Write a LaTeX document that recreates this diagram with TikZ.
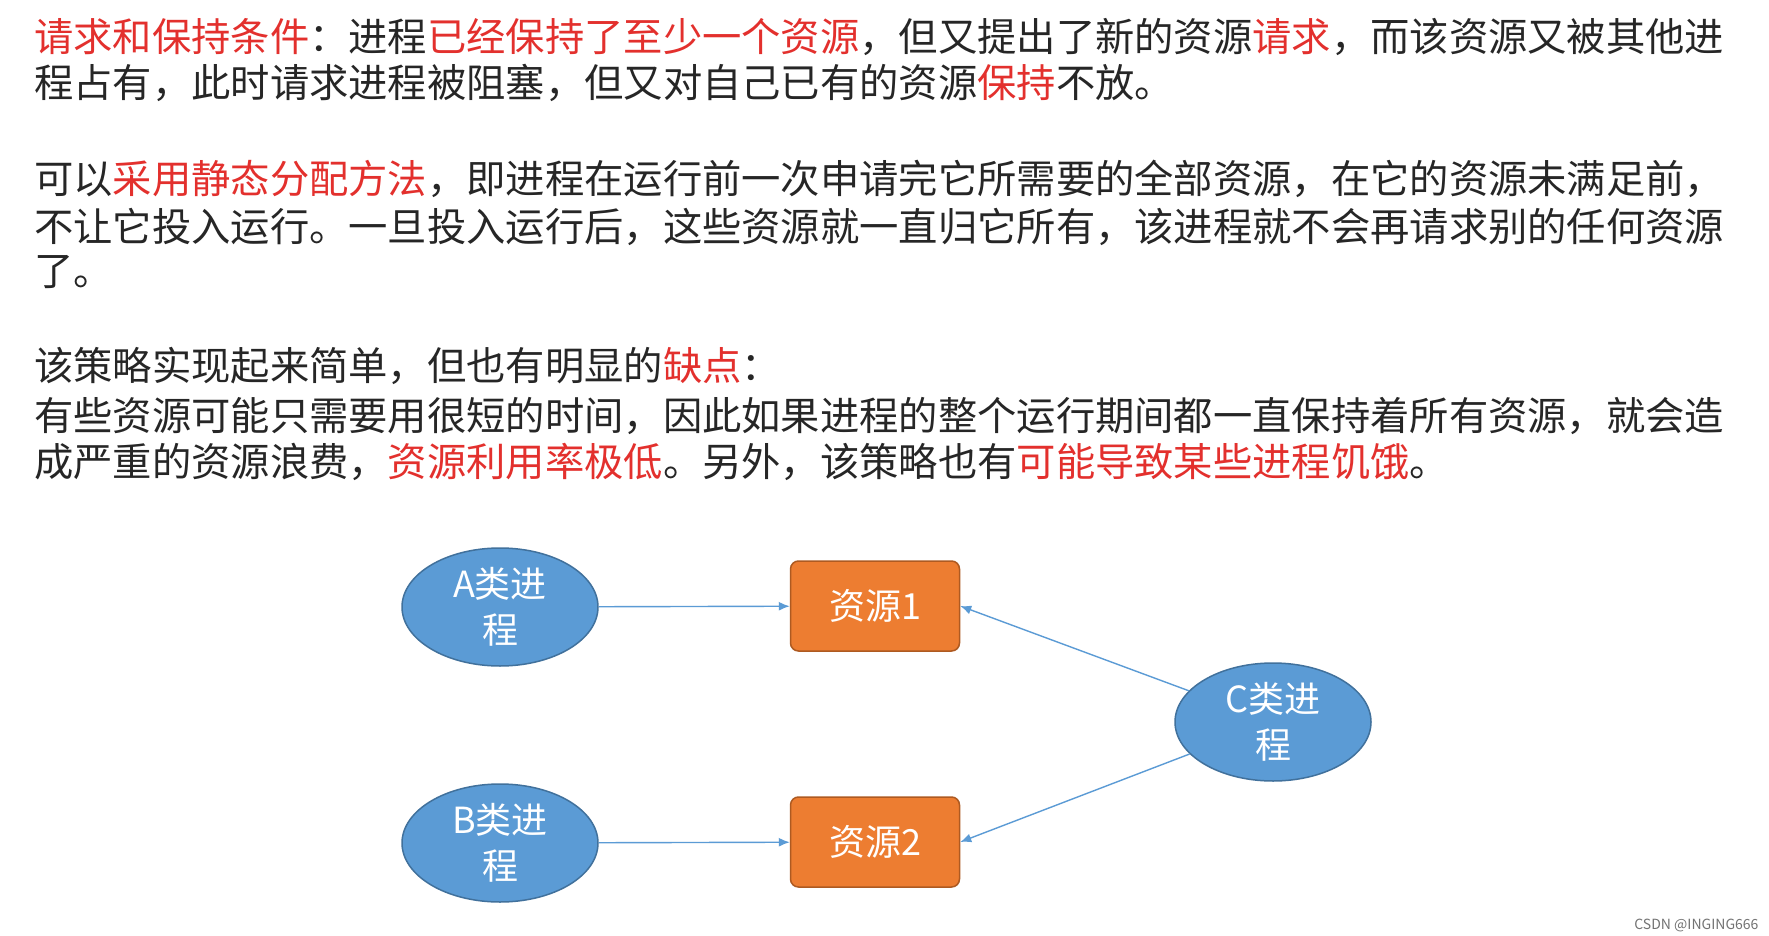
\documentclass[tikz,border=0pt]{standalone}
\usepackage{fontspec}
\setmainfont{Noto Sans CJK SC}
\setsansfont{Noto Sans CJK SC}
\usepackage{xcolor}
\usetikzlibrary{shapes.geometric,arrows.meta}
\definecolor{hred}{HTML}{E3302D}
\definecolor{pblue}{HTML}{5B9BD5}
\definecolor{pedge}{HTML}{41719C}
\definecolor{rorange}{HTML}{ED7D31}
\definecolor{redge}{HTML}{AE5A21}
\newcommand{\hl}[1]{\textcolor{hred}{#1}}
\begin{document}
\begin{tikzpicture}[x=1pt,y=-1pt,
    para/.style={anchor=west,inner sep=0pt,font=\fontsize{39.3}{45}\selectfont,text=black!85},
    proc/.style={ellipse,fill=pblue,draw=pedge,line width=1.5pt,minimum width=196pt,minimum height=118pt,inner sep=0pt,align=center,text=white,font=\fontsize{36}{46}\selectfont},
    res/.style={rectangle,rounded corners=8pt,fill=rorange,draw=redge,line width=1.5pt,minimum width=169pt,minimum height=90pt,text=white,font=\fontsize{36}{40}\selectfont},
    link/.style={draw=pblue,line width=1.4pt,-{Latex[length=11pt,width=9pt]}}]
    \useasboundingbox (0,0) rectangle (1769,936);
    \fill[white] (0,0) rectangle (1769,936);
    % text
    \node[para] (l1) at (34,37) {\hl{请求和保持条件}：进程\hl{已经保持了至少一个资源}，但又提出了新的资源\hl{请求}，而该资源又被其他进};
    \node[para] (l2) at (34,83) {程占有，此时请求进程被阻塞，但又对自己已有的资源\hl{保持}不放。};
    \node[para] (l3) at (34,179) {可以\hl{采用静态分配方法}，即进程在运行前一次申请完它所需要的全部资源，在它的资源未满足前，};
    \node[para] (l4) at (34,227) {不让它投入运行。一旦投入运行后，这些资源就一直归它所有，该进程就不会再请求别的任何资源};
    \node[para] (l5) at (34,272) {了。};
    \node[para] (l6) at (34,366) {该策略实现起来简单，但也有明显的\hl{缺点}：};
    \node[para] (l7) at (34,416) {有些资源可能只需要用很短的时间，因此如果进程的整个运行期间都一直保持着所有资源，就会造};
    \node[para] (l8) at (34,462) {成严重的资源浪费，\hl{资源利用率极低}。另外，该策略也有\hl{可能导致某些进程饥饿}。};
    % diagram
    \node[proc] (pa) at (500,607) {A类进\\程};
    \node[proc] (pb) at (500,843) {B类进\\程};
    \node[proc] (pc) at (1273,722) {C类进\\程};
    \node[res] (r1) at (875,606) {资源1};
    \node[res] (r2) at (875,842) {资源2};
    \draw[link] (pa) -- (r1);
    \draw[link] (pb) -- (r2);
    \draw[link] (pc) -- (r1.east);
    \draw[link] (pc) -- (r2.east);
    \node[anchor=east,text=black!55,font=\fontsize{14}{16}\selectfont] (mark) at (1762,925) {CSDN @INGING666};
\end{tikzpicture}
\end{document}
